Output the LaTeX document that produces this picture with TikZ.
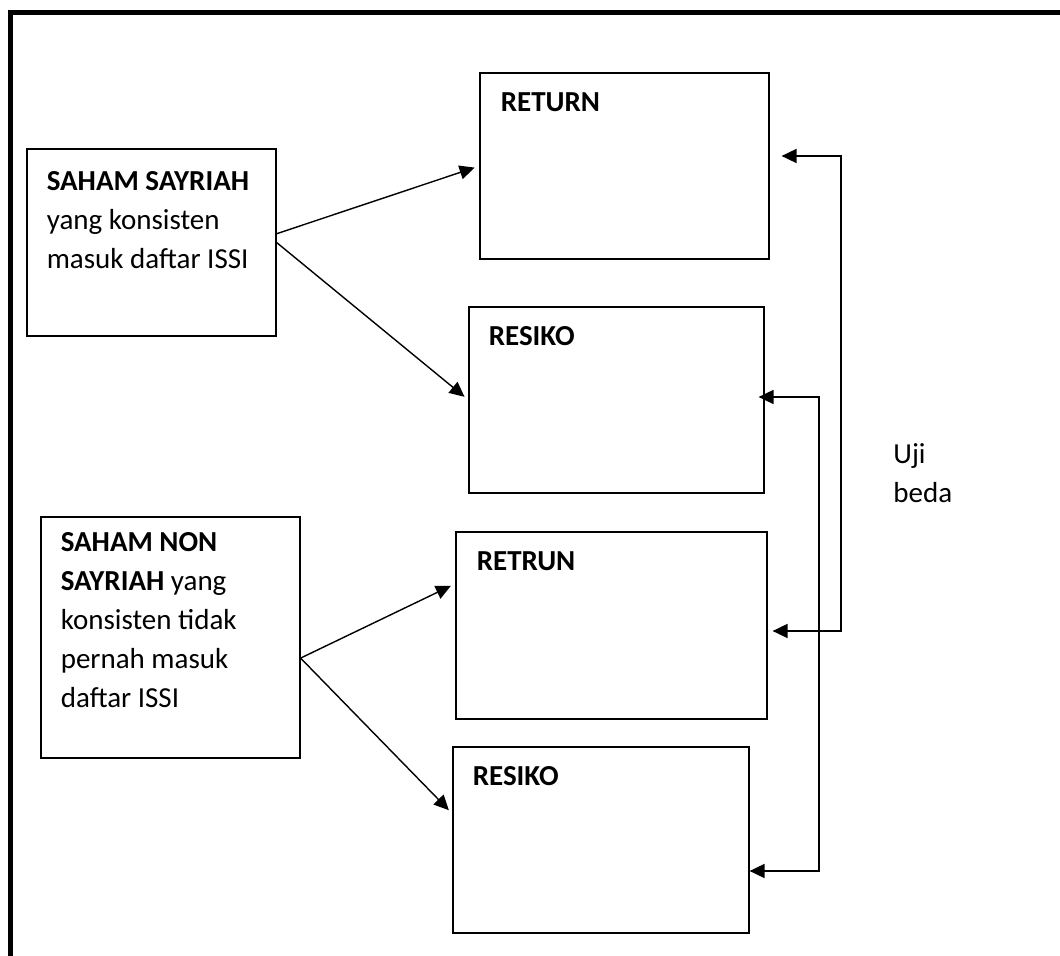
\documentclass[tikz,border=0pt]{standalone}
\usepackage{fontspec}
\setmainfont{Carlito}
\usetikzlibrary{arrows.meta,positioning,fit}

\tikzset{
  kotak/.style={draw, line width=0.6pt, inner sep=0pt},
  isi/.style={inner sep=0pt, align=left, font=\fontsize{14.5}{19.5}\selectfont},
  panah/.style={-{Triangle[length=7.5pt,width=7pt]}, line width=0.7pt, shorten >=2.5pt},
  ujipanah/.style={{Triangle[length=7.5pt,width=7pt]}-{Triangle[length=7.5pt,width=7pt]}, line width=0.9pt},
}

\begin{document}
\begin{tikzpicture}[x=0.5pt,y=-0.5pt]
\useasboundingbox (0,0) rectangle (1060,956);
% bingkai luar
\draw[line width=2.5pt] (10.5,956) -- (10.5,13) -- (1060,13);

% kotak saham
\node[kotak, fit={(27,149) (276,336)}] (syariah) {};
\node[kotak, fit={(41,517) (300,758)}] (nonsyariah) {};
\node[isi, below right=11.5pt and 10pt of syariah.north west] (tSyariah)
  {\textbf{SAHAM SAYRIAH}\\yang konsisten\\masuk daftar ISSI};
\node[isi, below right=8pt and 10pt of nonsyariah.north west] (tNonsyariah)
  {\textbf{SAHAM NON}\\\textbf{SAYRIAH} yang\\konsisten tidak\\pernah masuk\\daftar ISSI};

% kotak return dan resiko
\node[kotak, fit={(480,73) (769,259)}] (return) {};
\node[kotak, fit={(469,307) (764,493)}] (resiko) {};
\node[kotak, fit={(456,532) (767,719)}] (retrun) {};
\node[kotak, fit={(453,747) (749,933)}] (resikob) {};
\node[isi, below right=10pt and 10.5pt of return.north west] (tReturn) {\textbf{RETURN}};
\node[isi, below right=10pt and 10pt of resiko.north west] (tResiko) {\textbf{RESIKO}};
\node[isi, below right=10pt and 10.5pt of retrun.north west] (tRetrun) {\textbf{RETRUN}};
\node[isi, below right=10pt and 10pt of resikob.north west] (tResikob) {\textbf{RESIKO}};

% panah
\draw[panah] (syariah.4) -- (return.west);
\draw[panah] (syariah.east) -- (resiko.west);
\draw[panah] (nonsyariah.351) -- (retrun.165);
\draw[panah] (nonsyariah.351) -- (resikob.170);

% uji beda
\draw[ujipanah, shorten <=6pt, shorten >=2.5pt]
  ([yshift=5pt]return.east) -- ++(71,0) |- ([yshift=-2.75pt]retrun.east);
\draw[ujipanah, shorten <=-3pt]
  ([yshift=1.5pt]resiko.east) -- ++(54,0) |- ([yshift=-15.5pt]resikob.east);
\node[isi, anchor=north west] (ujibeda) at (893,443) {Uji\\beda};
\end{tikzpicture}
\end{document}
